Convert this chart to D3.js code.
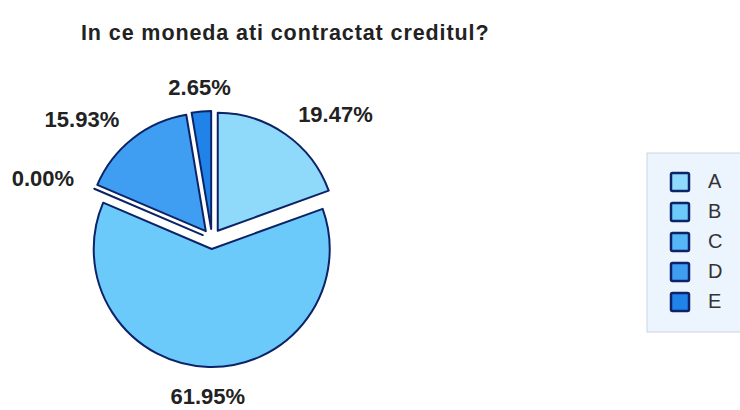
<!DOCTYPE html>
<html>
<head>
<meta charset="utf-8">
<title>Moneda credit</title>
<script src="https://d3js.org/d3.v7.min.js"></script>
<style>
  body{margin:0;background:#fff;}
  text{font-family:"Liberation Sans",Arial,sans-serif;fill:#222;}
  .title{font-size:21.5px;font-weight:bold;letter-spacing:0.9px;}
  .lbl{font-size:22px;font-weight:bold;}
  .leg{font-size:20px;fill:#333;}
  path.slice{stroke:#0c2467;stroke-width:2;stroke-linejoin:round;}
</style>
</head>
<body>
<script>
var categories=["A","B","C","D","E"];
var values=[19.47,61.95,0.00,15.93,2.65];
var colors=["#8fd9fb","#6ccafa","#56b6f6","#3f9ef2","#1f83ea"];

var svg=d3.select("body").append("svg").attr("width",740).attr("height",410);

svg.append("text").attr("class","title").attr("x",81).attr("y",40).text("In ce moneda ati contractat creditul?");

var cx=212,cy=239,r=118,explode=10;
var pie=d3.pie().sort(null).value(function(d){return d;});
var arcs=pie(values);
var arc=d3.arc().innerRadius(0).outerRadius(r);

var g=svg.append("g").attr("transform","translate("+cx+","+cy+")");

g.selectAll("path").data(arcs).enter().append("path")
  .attr("class","slice")
  .attr("d",arc)
  .attr("fill",function(d,i){return colors[i];})
  .attr("transform",function(d){
    var a=(d.startAngle+d.endAngle)/2;
    return "translate("+(Math.sin(a)*explode)+","+(-Math.cos(a)*explode)+")";
  });

var lr=150;
g.selectAll("text.lbl").data(arcs).enter().append("text")
  .attr("class","lbl")
  .attr("x",function(d){var a=(d.startAngle+d.endAngle)/2;return Math.sin(a)*lr;})
  .attr("y",function(d){var a=(d.startAngle+d.endAngle)/2;return -Math.cos(a)*lr+9*Math.max(0,-Math.cos(a));})
  .attr("dominant-baseline","middle")
  .attr("text-anchor",function(d){
    var s=Math.sin((d.startAngle+d.endAngle)/2);
    return s>0.3?"start":(s<-0.3?"end":"middle");
  })
  .text(function(d){return d3.format(".2f")(d.value)+"%";});

// legend
var lg=svg.append("g").attr("transform","translate(647,153)");
lg.append("rect").attr("x",0).attr("y",0).attr("width",100).attr("height",179)
  .attr("fill","#ecf4fd").attr("stroke","#c9d5e2").attr("stroke-width",1);
var ly=d3.scalePoint().domain(categories).range([29,149]);
var items=lg.selectAll("g.item").data(categories).enter().append("g")
  .attr("transform",function(d){return "translate(0,"+ly(d)+")";});
items.append("rect").attr("x",24).attr("y",-9).attr("width",18).attr("height",18)
  .attr("fill",function(d,i){return colors[i];})
  .attr("stroke","#0c2467").attr("stroke-width",2.5).attr("rx",1.5);
items.append("text").attr("class","leg").attr("x",61).attr("y",1)
  .attr("dominant-baseline","middle").text(function(d){return d;});
</script>
</body>
</html>
